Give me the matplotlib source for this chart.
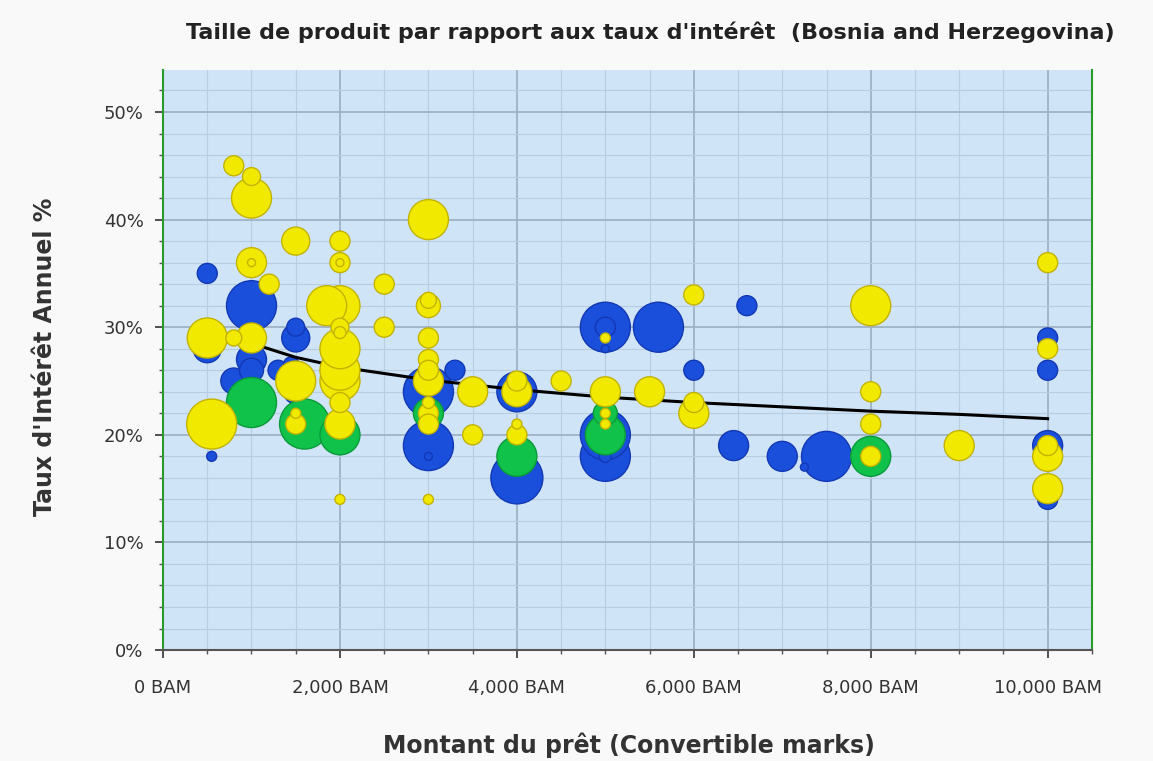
#!/usr/bin/env python3
"""
Bubble chart: loan amount vs annual interest rate (Bosnia and Herzegovina)
"""

import numpy as np
import matplotlib
matplotlib.use('Agg')
import matplotlib.pyplot as plt
from matplotlib.ticker import FuncFormatter, MultipleLocator

# --- data (loan amount in BAM, annual rate in %, bubble size) ---
blue_x = [500, 500, 550, 800, 1000, 1000, 1000, 1300, 1450, 1500, 1500, 1500,
          3000, 3000, 3000, 3300, 4000, 4000, 5000, 5000, 5000, 5000, 5000, 5000,
          5600, 6000, 6600, 6450, 7000, 7250, 7500, 10000, 10000, 10000, 10000]
blue_y = [35, 28, 18, 25, 32, 27, 26, 26, 26.5, 30, 29, 24,
          24, 19, 18, 26, 24, 16, 30, 30, 28, 20, 18, 18,
          30, 26, 32, 19, 18, 17, 18, 29, 26, 19, 14]
blue_size = [10, 14, 5, 13, 25, 15, 12, 10, 8, 9, 14, 12,
             25, 25, 4, 10, 20, 26, 25, 10, 4, 25, 25, 6,
             25, 10, 10, 15, 15, 4, 25, 10, 10, 15, 10]

green_x = [1000, 1600, 2000, 3000, 4000, 5000, 5000, 8000]
green_y = [23, 21, 20, 22, 18, 22, 20, 18]
green_size = [25, 25, 20, 15, 20, 12, 20, 20]

yellow_x = [800, 1000, 1000, 1000, 1000, 1200, 1500, 2000, 2000, 2000,
            1850, 2000, 2000, 2500, 2500, 500, 800, 1000, 550, 1500,
            1500, 1500, 2000, 2000, 2000, 2000, 2000, 2000, 2000,
            3000, 3000, 3000, 3000, 3000, 3000, 3000, 3000, 3000, 3000, 3000,
            3500, 3500, 4000, 4000, 4000, 4000, 4500, 5000, 5000, 5000, 5000,
            5500, 6000, 6000, 6000, 8000, 8000, 8000, 8000, 9000,
            10000, 10000, 10000, 10000, 10000]
yellow_y = [45, 44, 42, 36, 36, 34, 38, 38, 36, 36,
            32, 32, 30, 34, 30, 29, 29, 29, 21, 25,
            21, 22, 28, 26, 25, 23, 21, 14, 29.5,
            40, 32, 32.5, 29, 27, 26, 25, 23, 22, 21, 14,
            24, 20, 25, 24, 21, 20, 25, 24, 29, 22, 21,
            24, 33, 23, 22, 32, 24, 21, 18, 19,
            36, 28, 19, 18, 15]
yellow_size = [10, 9, 20, 15, 4, 10, 14, 10, 10, 4,
               20, 20, 9, 10, 10, 20, 8, 15, 25, 20,
               10, 5, 20, 20, 20, 10, 15, 5, 6,
               20, 12, 8, 10, 10, 10, 15, 6, 10, 10, 5,
               15, 10, 10, 15, 5, 10, 10, 15, 5, 5, 5,
               15, 10, 10, 15, 20, 10, 10, 10, 15,
               10, 10, 10, 15, 15]

# trend line
trend_x = [1000, 1500, 2000, 3000, 4000, 5000, 6000, 7000, 8000, 9000, 10000]
trend_y = [28.5, 27.2, 26.3, 25.1, 24.2, 23.5, 23.0, 22.6, 22.2, 21.9, 21.5]

plt.rcParams['font.family'] = ['DejaVu Sans']


def draw_bubbles(ax, xs, ys, sizes, face, edge, z):
    """Draw bubbles largest first so the small ones stay visible"""
    order = np.argsort(sizes)[::-1]
    xs = np.asarray(xs)[order]
    ys = np.asarray(ys)[order]
    r = np.asarray(sizes, dtype=float)[order]
    s = (1.44 * r) ** 2
    ax.scatter(xs, ys, s=s, c=face, edgecolors=edge, linewidths=1.0, zorder=z)


fig = plt.figure(figsize=(11.53, 7.61), dpi=100)
fig.patch.set_facecolor('#f9f9f9')
ax = fig.add_axes([0.1414, 0.1458, 0.8056, 0.7622])
ax.set_facecolor('#d0e4f8')

ax.set_xlim(0, 10500)
ax.set_ylim(0, 53.9)

# grid
ax.xaxis.set_major_locator(MultipleLocator(2000))
ax.xaxis.set_minor_locator(MultipleLocator(500))
ax.yaxis.set_major_locator(MultipleLocator(10))
ax.yaxis.set_minor_locator(MultipleLocator(2))
ax.grid(which='major', color='#9fb2c6', linewidth=1.3, zorder=0)
ax.grid(which='minor', color='#b8cde2', linewidth=0.8, zorder=0)
ax.set_axisbelow(True)

draw_bubbles(ax, blue_x, blue_y, blue_size, '#1a4fdc', '#1238b4', 2)
draw_bubbles(ax, green_x, green_y, green_size, '#10c24a', '#0a9a3a', 3)
ax.plot(trend_x, trend_y, color='black', linewidth=2.2, zorder=4)
draw_bubbles(ax, yellow_x, yellow_y, yellow_size, '#f2e900', '#c2b300', 5)

# spines
ax.spines['top'].set_visible(False)
ax.spines['left'].set_color('#2a9a2a')
ax.spines['right'].set_color('#2a9a2a')
ax.spines['left'].set_linewidth(1.5)
ax.spines['right'].set_linewidth(1.5)
ax.spines['bottom'].set_color('#555555')
ax.spines['bottom'].set_linewidth(1.5)

ax.tick_params(axis='both', which='major', direction='out', length=6, width=1.2,
               color='#333333', labelsize=13, labelcolor='#333333')
ax.tick_params(axis='both', which='minor', direction='out', length=3, width=1,
               color='#555555')
ax.tick_params(axis='x', which='major', pad=15)
ax.tick_params(axis='y', which='major', pad=8)

ax.xaxis.set_major_formatter(FuncFormatter(lambda v, p: f"{int(v):,} BAM"))
ax.yaxis.set_major_formatter(FuncFormatter(lambda v, p: f"{int(v)}%"))

fig.text(0.5455, 0.021, "Montant du prêt (Convertible marks)", ha='center', va='center',
         fontsize=17, fontweight='bold', color='#333333')
fig.text(0.039, 0.531, "Taux d'Intérêt Annuel %", ha='center', va='center', rotation=90,
         fontsize=17, fontweight='bold', color='#333333')

fig.text(0.564, 0.958, "Taille de produit par rapport aux taux d'intérêt  (Bosnia and Herzegovina)",
         ha='center', va='center', fontsize=16, fontweight='bold', color='#222222')

fig.savefig('out.png', dpi=100, facecolor=fig.get_facecolor())
